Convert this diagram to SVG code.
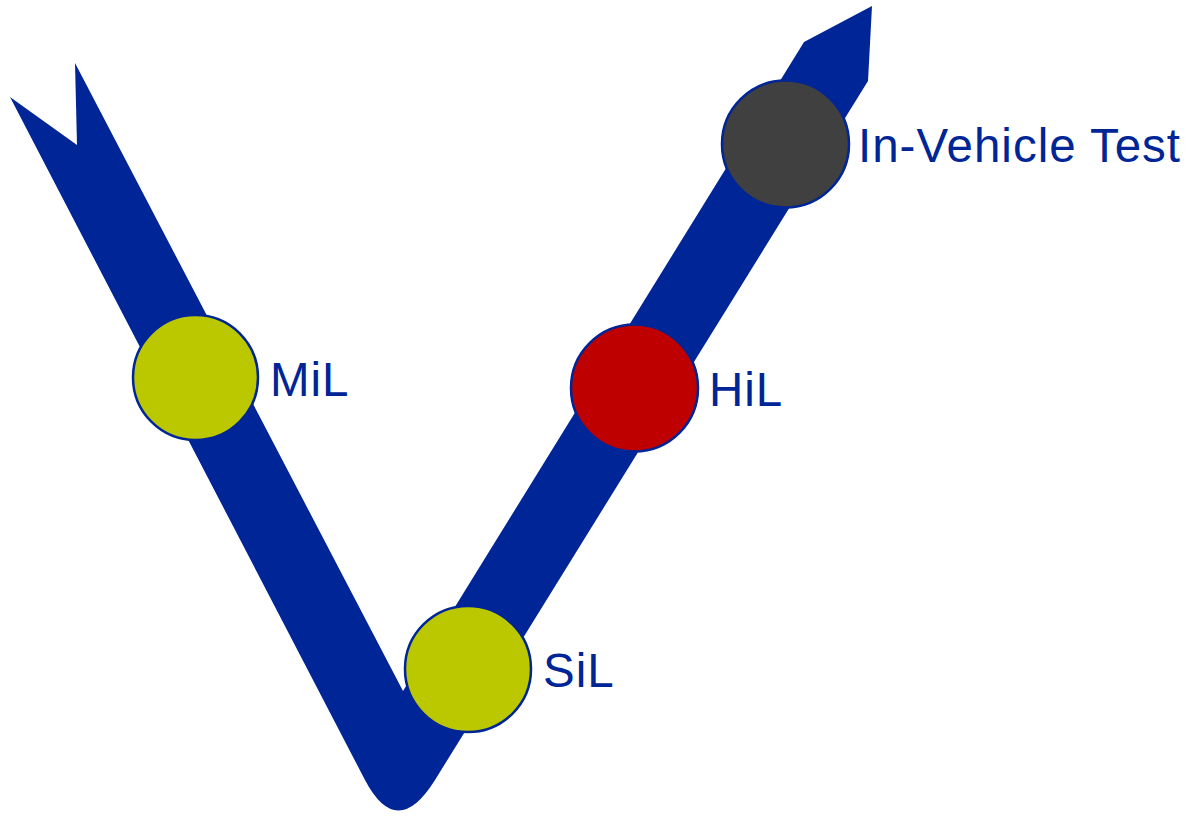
<svg xmlns="http://www.w3.org/2000/svg" width="1190" height="816" viewBox="0 0 1190 816">
  <style>
    .v { fill: #002596; }
    .stage { stroke: #002596; stroke-width: 2.5; }
    .label { font-family: "Liberation Sans", Arial, sans-serif; font-size: 47.5px; letter-spacing: 1px; fill: #002596; }
  </style>
  <rect width="1190" height="816" fill="#ffffff"/>
  <!-- V-model band: notched tail at top left, arrow head at top right -->
  <g id="connectors">
    <path class="v" d="M 10,97 L 77,145 L 75,63 L 403,691 L 804,42 L 872,6 L 868,81 L 435,780 Q 397,841 365,780 Z"/>
  </g>
  <g id="mil">
    <circle class="stage" cx="195.5" cy="377.5" r="62.5" fill="#bbc800"/>
    <text class="label" x="270" y="396">MiL</text>
  </g>
  <g id="sil">
    <circle class="stage" cx="468" cy="669" r="63" fill="#bbc800"/>
    <text class="label" x="543" y="687">SiL</text>
  </g>
  <g id="hil">
    <circle class="stage" cx="634.5" cy="388" r="63.5" fill="#be0000"/>
    <text class="label" x="709" y="406">HiL</text>
  </g>
  <g id="in-vehicle">
    <circle class="stage" cx="785.5" cy="144" r="63.5" fill="#404040"/>
    <text class="label" x="858" y="162">In-Vehicle Test</text>
  </g>
</svg>
